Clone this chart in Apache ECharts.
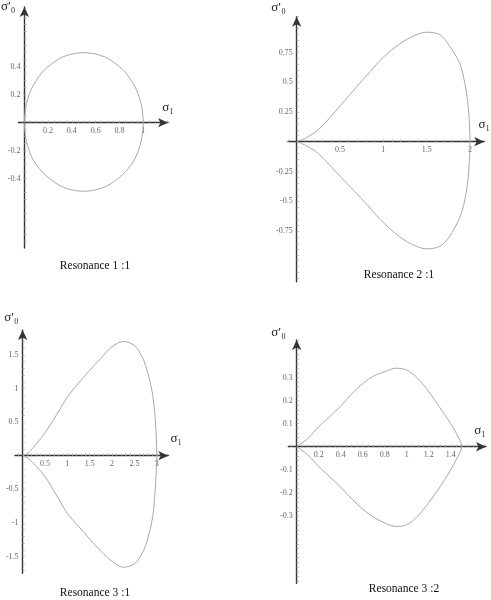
<!DOCTYPE html>
<html>
<head>
<meta charset="utf-8">
<script src="https://cdn.jsdelivr.net/npm/echarts@6/dist/echarts.min.js"></script>
<style>
  html, body { margin: 0; padding: 0; background: #fff; }
  #chart { width: 491px; height: 600px; }
</style>
</head>
<body>
<div id="chart"></div>
<script>
// values, upper and lower branch of each curve
var s1_11 = [0, 0.01, 0.03, 0.06, 0.1, 0.15, 0.2, 0.3, 0.4, 0.5, 0.6, 0.7, 0.8, 0.85, 0.9, 0.94, 0.97, 0.99, 1.0];
var up_11 = [0, 0.10, 0.17, 0.24, 0.30, 0.36, 0.40, 0.46, 0.49, 0.50, 0.49, 0.46, 0.40, 0.36, 0.30, 0.24, 0.17, 0.10, 0];
var lo_11 = [0, -0.10, -0.17, -0.24, -0.30, -0.35, -0.39, -0.45, -0.48, -0.49, -0.48, -0.45, -0.39, -0.35, -0.30, -0.24, -0.17, -0.10, 0];

var s1_21 = [0, 0.1, 0.25, 0.5, 0.75, 0.85, 1, 1.25, 1.5, 1.65, 1.76, 1.88, 1.94, 1.98, 2];
var up_21 = [0, 0.03, 0.10, 0.30, 0.51, 0.59, 0.71, 0.85, 0.92, 0.90, 0.81, 0.66, 0.49, 0.29, 0];
var lo_21 = [0, -0.03, -0.10, -0.29, -0.48, -0.56, -0.68, -0.83, -0.90, -0.88, -0.80, -0.64, -0.49, -0.29, 0];

var s1_31 = [0, 0.1, 0.25, 0.5, 0.75, 1, 1.25, 1.5, 1.75, 2, 2.25, 2.5, 2.65, 2.75, 2.85, 2.92, 2.97, 3];
var up_31 = [0, 0.03, 0.13, 0.34, 0.60, 0.87, 1.08, 1.27, 1.45, 1.62, 1.70, 1.64, 1.50, 1.34, 1.10, 0.85, 0.50, 0];
var lo_31 = [0, -0.03, -0.12, -0.31, -0.58, -0.86, -1.05, -1.24, -1.42, -1.57, -1.66, -1.61, -1.48, -1.34, -1.10, -0.85, -0.45, 0];

var s1_32 = [0, 0.1, 0.2, 0.3, 0.4, 0.5, 0.6, 0.7, 0.8, 0.9, 1.0, 1.1, 1.2, 1.3, 1.4, 1.45, 1.5];
var up_32 = [0, 0.035, 0.087, 0.13, 0.176, 0.228, 0.274, 0.306, 0.325, 0.34, 0.332, 0.296, 0.238, 0.17, 0.10, 0.058, 0];
var lo_32 = [0, -0.035, -0.085, -0.13, -0.175, -0.225, -0.27, -0.305, -0.33, -0.345, -0.338, -0.30, -0.242, -0.175, -0.10, -0.055, 0];

// tick labels
var xLab_11 = [0.2, 0.4, 0.6, 0.8, 1];
var yLab_11 = [-0.4, -0.2, 0.2, 0.4];
var xLab_21 = [0.5, 1, 1.5, 2];
var yLab_21 = [-0.75, -0.5, -0.25, 0.25, 0.5, 0.75];
var xLab_31 = [0.5, 1, 1.5, 2, 2.5, 3];
var yLab_31 = [-1.5, -1, -0.5, 0.5, 1, 1.5];
var xLab_32 = [0.2, 0.4, 0.6, 0.8, 1, 1.2, 1.4];
var yLab_32 = [-0.3, -0.2, -0.1, 0.1, 0.2, 0.3];

var titles = ['Resonance 1 :1', 'Resonance 2 :1', 'Resonance 3 :1', 'Resonance 3 :2'];

var chart = echarts.init(document.getElementById('chart'));

function steps(a, b, s) {
  var out = [];
  for (var v = Math.ceil(a / s) * s; v <= b + 1e-9; v += s) {
    if (Math.abs(v) > 1e-9) out.push(+v.toFixed(4));
  }
  return out;
}

function loop(s1, up, lo) {
  var a = s1.map(function (x, i) { return [x, up[i]]; });
  var b = s1.map(function (x, i) { return [x, lo[i]]; }).reverse();
  return a.concat(b);
}

var serif = '"Liberation Serif", "DejaVu Serif", serif';

// panel layout: grid box, axis extents, tick steps, name placement
var panels = [
  { grid: { left: 15, top: 7, width: 153, height: 241 }, x: [-0.049, 1.208], y: [-0.895, 0.826],
    xs: 0.05, ys: 0.05, xl: xLab_11, yl: yLab_11, xg: 0, xp: 9, yg: 0, yp: 9 },
  { grid: { left: 288, top: 16.7, width: 197, height: 265 }, x: [-0.1, 2.164], y: [-1.176, 1.05],
    xs: 0.1, ys: 0.05, xl: xLab_21, yl: yLab_21, xg: 0, xp: 11, yg: 9, yp: 11 },
  { grid: { left: 15, top: 330, width: 153.3, height: 243.3 }, x: [-0.17, 3.257], y: [-1.75, 1.87],
    xs: 0.1, ys: 0.1, xl: xLab_31, yl: yLab_31, xg: 8, xp: 11, yg: 12, yp: 4 },
  { grid: { left: 288.3, top: 340, width: 197.7, height: 243.3 }, x: [-0.076, 1.72], y: [-0.591, 0.462],
    xs: 0.05, ys: 0.02, xl: xLab_32, yl: yLab_32, xg: -6, xp: 10, yg: 7, yp: 11 }
];
var curves = [loop(s1_11, up_11, lo_11), loop(s1_21, up_21, lo_21), loop(s1_31, up_31, lo_31), loop(s1_32, up_32, lo_32)];

var axisLine = { onZero: false, symbol: ['none', 'arrow'], symbolSize: [7, 10], lineStyle: { color: '#333', width: 1.4 } };
var labelStyle = { fontFamily: serif, fontSize: 8, color: '#666' };

var option = {
  animation: false,
  backgroundColor: '#fff',
  grid: [], xAxis: [], yAxis: [], series: [], graphic: []
};

panels.forEach(function (p, i) {
  // shift the axes from the grid edge to the origin (the labels go with them)
  var xOff = -p.grid.height * (0 - p.y[0]) / (p.y[1] - p.y[0]);
  var yOff = -p.grid.width * (0 - p.x[0]) / (p.x[1] - p.x[0]);
  option.grid.push(p.grid);
  option.xAxis.push({
    type: 'value', gridIndex: i, min: p.x[0], max: p.x[1], position: 'bottom', offset: xOff,
    name: 'σ₁', nameLocation: 'end', nameGap: p.xg,
    nameTextStyle: { fontFamily: serif, fontSize: 13, color: '#222', align: 'center', verticalAlign: 'bottom', padding: [0, 0, p.xp, 0] },
    axisLine: axisLine,
    axisTick: { show: true, inside: true, length: 2, customValues: steps(p.x[0], p.x[1], p.xs), lineStyle: { color: '#aaa' } },
    axisLabel: Object.assign({ margin: 4.5, customValues: p.xl, formatter: function (v) { return String(v); } }, labelStyle),
    splitLine: { show: false }
  });
  option.yAxis.push({
    type: 'value', gridIndex: i, min: p.y[0], max: p.y[1], position: 'left', offset: yOff,
    name: 'σ′₀', nameLocation: 'end', nameGap: p.yg,
    nameTextStyle: { fontFamily: serif, fontSize: 13, color: '#222', align: 'right', verticalAlign: 'middle', padding: [0, p.yp, 0, 0] },
    axisLine: axisLine,
    axisTick: { show: true, inside: true, length: 2, customValues: steps(p.y[0], p.y[1], p.ys), lineStyle: { color: '#aaa' } },
    axisLabel: Object.assign({ margin: 4, customValues: p.yl, formatter: function (v) { return String(v); } }, labelStyle),
    splitLine: { show: false }
  });
  option.series.push({
    type: 'line', xAxisIndex: i, yAxisIndex: i,
    data: curves[i], showSymbol: false, smooth: 0.3,
    lineStyle: { color: '#a8a8a8', width: 1 }
  });
});

// captions under each panel
var captionPos = [[95, 266], [399, 275], [95, 593], [404, 589]];
titles.forEach(function (t, i) {
  option.graphic.push({
    type: 'text', x: captionPos[i][0], y: captionPos[i][1],
    style: { text: t, font: '11.5px ' + serif, fill: '#111', align: 'center', verticalAlign: 'middle' }
  });
});

chart.setOption(option);
</script>
</body>
</html>
